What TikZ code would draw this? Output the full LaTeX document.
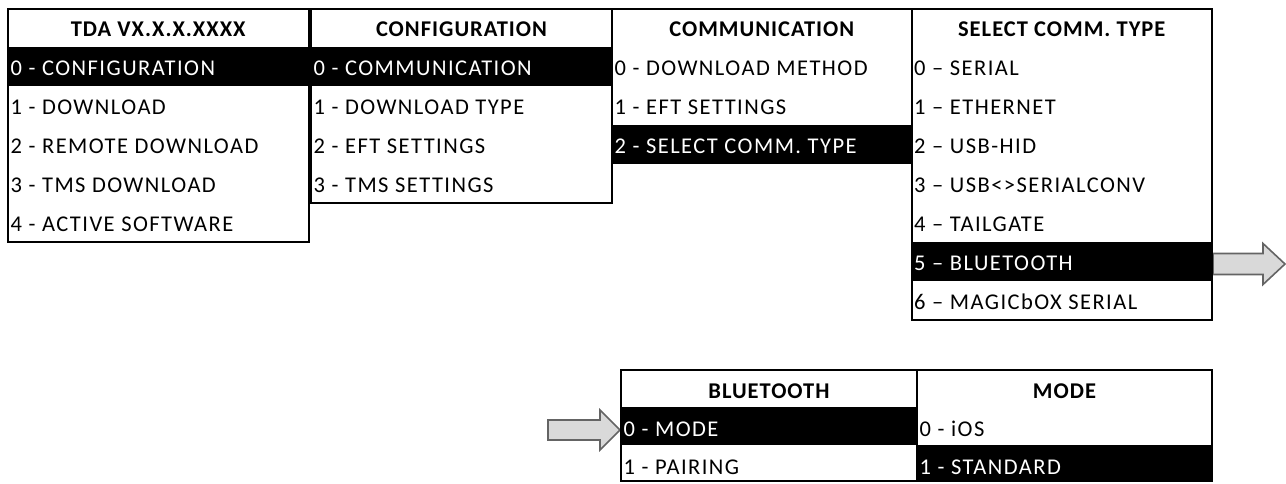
\documentclass[tikz,border=0pt]{standalone}
\usepackage{fontspec}
\setmainfont{Carlito}[LetterSpace=6.5, BoldFeatures={LetterSpace=4.5}]
\definecolor{arrowfill}{RGB}{217,217,217}
\definecolor{arrowline}{RGB}{100,100,100}
\tikzset{
  frame/.style={draw=black, line width=2pt},
  hlrow/.style={fill=black},
  item/.style={anchor=base west, inner sep=0pt, font=\fontsize{22.5}{27}\selectfont},
  itemhl/.style={item, text=white},
  head/.style={anchor=base, inner sep=0pt, font=\fontsize{22.5}{27}\selectfont\bfseries},
  blockarrow/.style={fill=arrowfill, draw=arrowline, line width=1.6pt, line join=miter}
}
\begin{document}
\begin{tikzpicture}[x=1pt, y=-1pt]
\useasboundingbox (0,0) rectangle (1286,483);

% ---- block arrows (drawn first, frames sit on top) ----
\coordinate (btout) at (1213,263.5);
\coordinate (btin) at (620,430);
\draw[blockarrow] (btout) ++(0,-10) -- ++(50,0) -- ++(0,-10) -- ++(22,20.5)
  -- ++(-22,20.5) -- ++(0,-10) -- ++(-50,0) -- cycle;
\draw[blockarrow] (btin) -- ++(-20,-20) -- ++(0,10) -- ++(-52,0) -- ++(0,20)
  -- ++(52,0) -- ++(0,10) -- cycle;

% ---- highlighted rows ----
\fill[hlrow] (8,46.5) rectangle (308.5,85.5);
\fill[hlrow] (311,46.5) rectangle (612,85.5);
\fill[hlrow] (612,124.5) rectangle (911.5,163.5);
\fill[hlrow] (911.5,241.5) rectangle (1212,280.5);
\fill[hlrow] (621,407) rectangle (917,445);
\fill[hlrow] (917,445) rectangle (1212,482);

% ---- frames ----
\draw[frame] (8,9) rectangle (308.5,241.5);
\draw[frame] (311,9) rectangle (612,202.5);
\draw[frame] (612,163.5) -- (612,9) -- (911.5,9) -- (911.5,163.5);
\draw[frame] (911.5,9) rectangle (1212,319.5);
\draw[frame] (621,370) rectangle (917,481);
\draw[frame] (917,370) rectangle (1212,481);

% ---- TDA menu ----
\node[head] (tda) at (158.25,36.5) {TDA VX.X.X.XXXX};
\node[itemhl] (tda0) at (10.5,75) {0 - CONFIGURATION};
\node[item] (tda1) at (10.5,114) {1 - DOWNLOAD};
\node[item] (tda2) at (10.5,153) {2 - REMOTE DOWNLOAD};
\node[item] (tda3) at (10.5,192) {3 - TMS DOWNLOAD};
\node[item] (tda4) at (10.5,231) {4 - ACTIVE SOFTWARE};

% ---- CONFIGURATION menu ----
\node[head] (cfg) at (461.5,36.5) {CONFIGURATION};
\node[itemhl] (cfg0) at (313.5,75) {0 - COMMUNICATION};
\node[item] (cfg1) at (313.5,114) {1 - DOWNLOAD TYPE};
\node[item] (cfg2) at (313.5,153) {2 - EFT SETTINGS};
\node[item] (cfg3) at (313.5,192) {3 - TMS SETTINGS};

% ---- COMMUNICATION menu ----
\node[head] (com) at (761.75,36.5) {COMMUNICATION};
\node[item] (com0) at (614.5,75) {0 - DOWNLOAD METHOD};
\node[item] (com1) at (614.5,114) {1 - EFT SETTINGS};
\node[itemhl] (com2) at (614.5,153) {2 - SELECT COMM. TYPE};

% ---- SELECT COMM. TYPE menu ----
\node[head] (sel) at (1061.75,36.5) {SELECT COMM. TYPE};
\node[item] (sel0) at (914,75) {0 – SERIAL};
\node[item] (sel1) at (914,114) {1 – ETHERNET};
\node[item] (sel2) at (914,153) {2 – USB-HID};
\node[item] (sel3) at (914,192) {3 – USB<>SERIALCONV};
\node[item] (sel4) at (914,231) {4 – TAILGATE};
\node[itemhl] (sel5) at (914,270) {5 – BLUETOOTH};
\node[item] (sel6) at (914,309) {6 – MAGICbOX SERIAL};

% ---- BLUETOOTH menu ----
\node[head] (bt) at (769,398) {BLUETOOTH};
\node[itemhl] (bt0) at (623.5,436) {0 - MODE};
\node[item] (bt1) at (623.5,474) {1 - PAIRING};

% ---- MODE menu ----
\node[head] (mode) at (1064.5,398) {MODE};
\node[item] (mode0) at (919.5,436) {0 - iOS};
\node[itemhl] (mode1) at (919.5,474) {1 - STANDARD};
\end{tikzpicture}
\end{document}
